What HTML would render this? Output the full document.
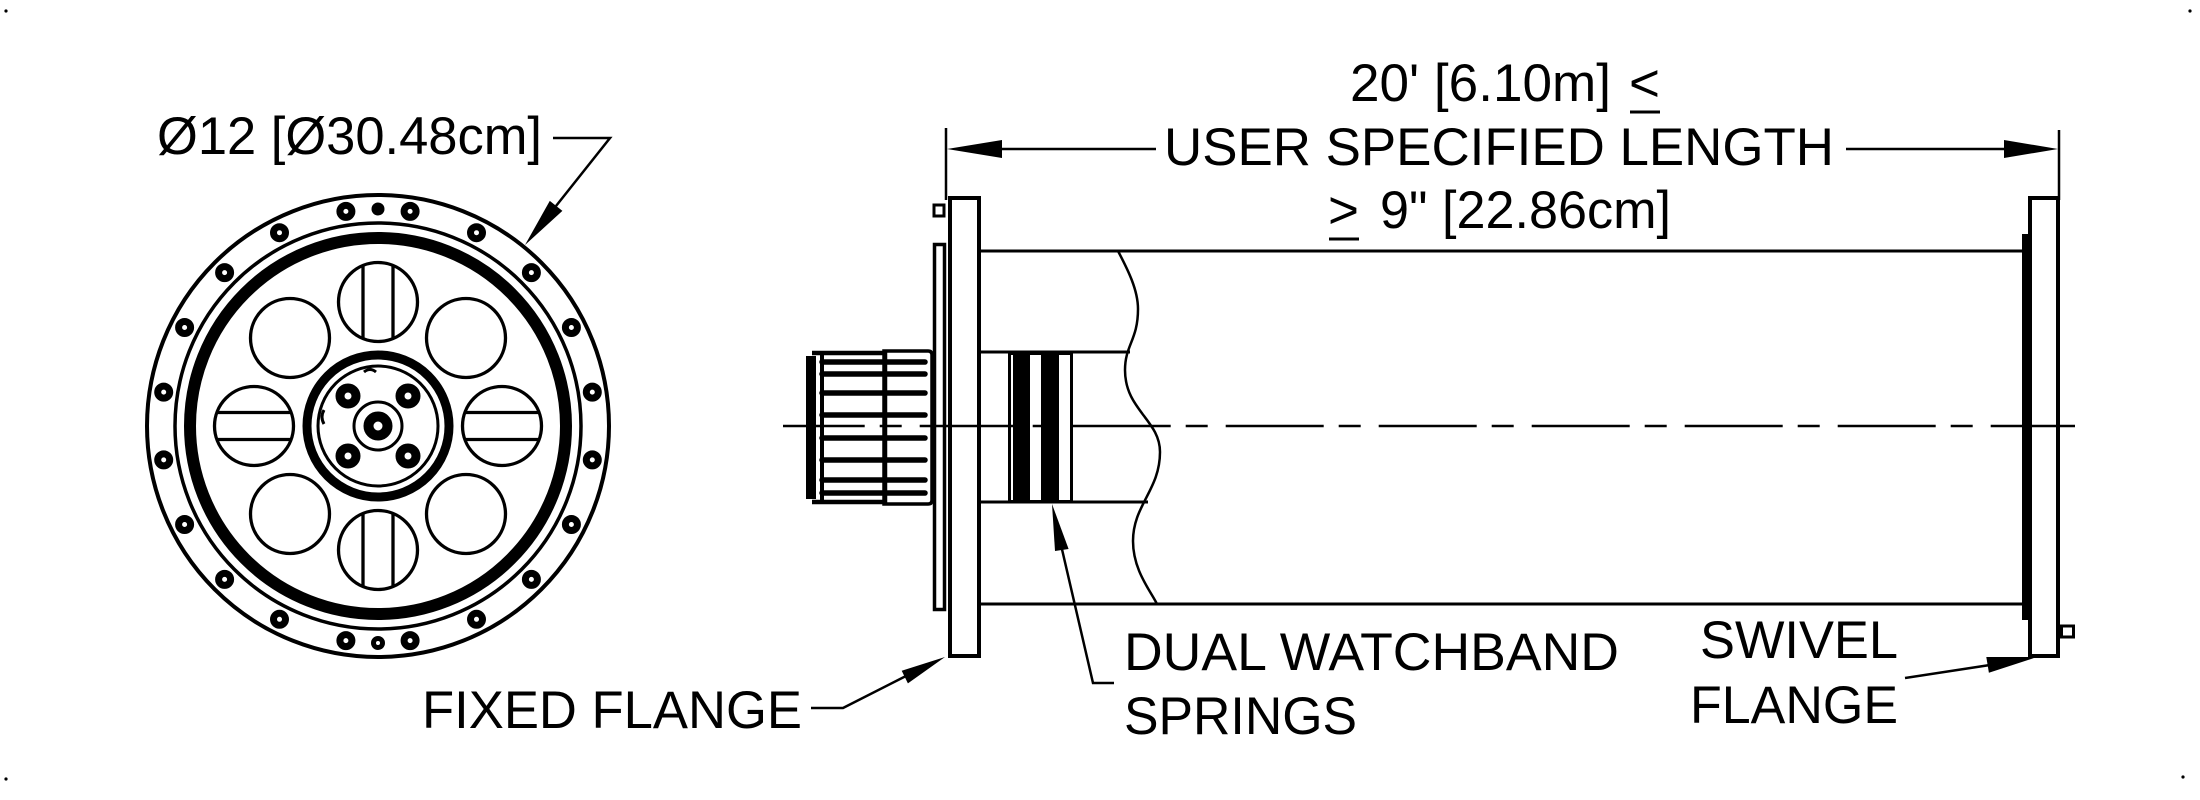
<!DOCTYPE html>
<html>
<head>
<meta charset="utf-8">
<style>
  html,body{margin:0;padding:0;background:#fff;}
  svg{display:block;}
  text{font-family:"Liberation Sans",Arial,sans-serif;font-size:53px;fill:#000;}
</style>
</head>
<body>
<svg width="2200" height="800" viewBox="0 0 2200 800" xmlns="http://www.w3.org/2000/svg">
  <rect width="2200" height="800" fill="#fff"/>

  <!-- corner dots -->
  <g fill="#000">
    <circle cx="6" cy="11" r="1.6"/>
    <circle cx="2190" cy="11" r="1.6"/>
    <circle cx="6" cy="779" r="1.6"/>
    <circle cx="2183" cy="777" r="1.6"/>
  </g>

  <!-- ============ FRONT (CIRCULAR) VIEW ============ -->
  <g fill="none" stroke="#000">
    <circle cx="378" cy="426" r="231" stroke-width="4"/>
    <circle cx="378" cy="426" r="203" stroke-width="3.5"/>
    <circle cx="378" cy="426" r="188" stroke-width="12"/>

    <!-- 8 cut-outs -->
    <g stroke-width="3.3">
      <circle cx="378" cy="302" r="39.5"/>
      <circle cx="378" cy="550" r="39.5"/>
      <circle cx="254" cy="426" r="39.5"/>
      <circle cx="502" cy="426" r="39.5"/>
      <circle cx="290" cy="338" r="39.5"/>
      <circle cx="466" cy="338" r="39.5"/>
      <circle cx="290" cy="514" r="39.5"/>
      <circle cx="466" cy="514" r="39.5"/>
      <!-- slots in top/bottom -->
      <line x1="363" y1="266" x2="363" y2="338"/>
      <line x1="393" y1="266" x2="393" y2="338"/>
      <line x1="363" y1="514" x2="363" y2="586"/>
      <line x1="393" y1="514" x2="393" y2="586"/>
      <!-- slots in left/right -->
      <line x1="217" y1="412.5" x2="291" y2="412.5"/>
      <line x1="217" y1="439.5" x2="291" y2="439.5"/>
      <line x1="465" y1="412.5" x2="539" y2="412.5"/>
      <line x1="465" y1="439.5" x2="539" y2="439.5"/>
    </g>

    <!-- hub -->
    <circle cx="378" cy="426" r="71" stroke-width="9"/>
    <circle cx="378" cy="426" r="60" stroke-width="3"/>
    <circle cx="378" cy="426" r="24" stroke-width="3"/>
    <circle cx="378" cy="426" r="9.5" stroke-width="10"/>
    <g stroke-width="9">
      <circle cx="348" cy="396" r="8"/>
      <circle cx="408" cy="396" r="8"/>
      <circle cx="348" cy="456" r="8"/>
      <circle cx="408" cy="456" r="8"/>
    </g>
    <path d="M364,372 q6,-5 12,0" stroke-width="3"/>
    <path d="M324,410 q-4,7 0,14" stroke-width="3"/>
  </g>

  <!-- bolt holes on flange ring -->
  <g fill="none" stroke="#000" stroke-width="7">
    <circle cx="345.9" cy="211.4" r="6"/>
    <circle cx="410.1" cy="211.4" r="6"/>
    <circle cx="279.5" cy="232.7" r="6"/>
    <circle cx="476.5" cy="232.7" r="6"/>
    <circle cx="224.6" cy="272.6" r="6"/>
    <circle cx="531.4" cy="272.6" r="6"/>
    <circle cx="184.6" cy="327.5" r="6"/>
    <circle cx="571.4" cy="327.5" r="6"/>
    <circle cx="163.7" cy="392.1" r="6"/>
    <circle cx="592.3" cy="392.1" r="6"/>
    <circle cx="163.7" cy="459.9" r="6"/>
    <circle cx="592.3" cy="459.9" r="6"/>
    <circle cx="184.6" cy="524.5" r="6"/>
    <circle cx="571.4" cy="524.5" r="6"/>
    <circle cx="224.6" cy="579.4" r="6"/>
    <circle cx="531.4" cy="579.4" r="6"/>
    <circle cx="279.5" cy="619.3" r="6"/>
    <circle cx="476.5" cy="619.3" r="6"/>
    <circle cx="345.9" cy="640.6" r="6"/>
    <circle cx="410.1" cy="640.6" r="6"/>
    <circle cx="378" cy="643" r="4.5" stroke-width="5"/>
  </g>
  <circle cx="378" cy="209" r="6.5" fill="#000"/>

  <!-- diameter label + leader -->
  <text x="157" y="154" textLength="385" lengthAdjust="spacingAndGlyphs">Ø12 [Ø30.48cm]</text>
  <polyline points="553,138 610,138 556,206" fill="none" stroke="#000" stroke-width="2.5"/>
  <polygon points="525,245 562.4,210.9 549.8,200.9" fill="#000"/>

  <!-- ============ SIDE VIEW ============ -->
  <!-- dimension -->
  <g stroke="#000" stroke-width="2.5" fill="none">
    <line x1="946" y1="128" x2="946" y2="200"/>
    <line x1="2059" y1="130" x2="2059" y2="200"/>
    <line x1="1000" y1="149" x2="1156" y2="149"/>
    <line x1="1846" y1="149" x2="2006" y2="149"/>
  </g>
  <polygon points="947,149 1002,140 1002,158" fill="#000"/>
  <polygon points="2058,149 2004,140 2004,158" fill="#000"/>

  <text x="1350" y="101" textLength="261" lengthAdjust="spacingAndGlyphs">20' [6.10m]</text>
  <text x="1629" y="101">&lt;</text>
  <line x1="1630" y1="112" x2="1660" y2="112" stroke="#000" stroke-width="3"/>
  <text x="1164" y="165" textLength="670" lengthAdjust="spacingAndGlyphs">USER SPECIFIED LENGTH</text>
  <text x="1328" y="228">&gt;</text>
  <line x1="1329" y1="239" x2="1359" y2="239" stroke="#000" stroke-width="3"/>
  <text x="1380" y="228" textLength="291" lengthAdjust="spacingAndGlyphs">9" [22.86cm]</text>

  <!-- tube -->
  <g stroke="#000" stroke-width="3" fill="none">
    <line x1="981" y1="251" x2="2024" y2="251"/>
    <line x1="981" y1="604" x2="2024" y2="604"/>
    <line x1="981" y1="352" x2="1130" y2="352"/>
    <line x1="981" y1="502" x2="1148" y2="502"/>
    <path d="M1118,251 C1128,270 1138,290 1138,309 C1138,340 1125,345 1125,370 C1125,410 1160,420 1160,452 C1160,490 1133,505 1133,541 C1133,570 1150,590 1157,604" stroke-width="2.5"/>
  </g>

  <!-- fixed flange -->
  <g stroke="#000" fill="#fff">
    <rect x="950" y="198" width="29" height="458" stroke-width="4"/>
    <rect x="934.5" y="244.5" width="10" height="365" stroke-width="3.5"/>
    <rect x="934" y="205" width="10" height="11" stroke-width="3"/>
  </g>

  <!-- connector (knurled) -->
  <g stroke="#000" fill="none">
    <rect x="806" y="356" width="10" height="143" fill="#000" stroke="none"/>
    <line x1="822" y1="354" x2="822" y2="501" stroke-width="4"/>
    <line x1="812" y1="353" x2="884" y2="353" stroke-width="4.5"/>
    <line x1="812" y1="502" x2="884" y2="502" stroke-width="4.5"/>
    <path d="M884,351 L928,351 Q932,351 932,355 L932,500 Q932,504 928,504 L884,504 Z" stroke-width="3.5"/>
    <line x1="885" y1="351" x2="885" y2="504" stroke-width="4.5"/>
    <g stroke-width="5.5" stroke-linecap="round">
      <line x1="822" y1="362" x2="925" y2="362"/>
      <line x1="822" y1="374" x2="925" y2="374"/>
      <line x1="822" y1="393" x2="925" y2="393"/>
      <line x1="822" y1="415" x2="925" y2="415"/>
      <line x1="822" y1="438" x2="925" y2="438"/>
      <line x1="822" y1="460" x2="925" y2="460"/>
      <line x1="822" y1="480" x2="925" y2="480"/>
      <line x1="822" y1="493" x2="925" y2="493"/>
    </g>
  </g>

  <!-- springs -->
  <rect x="1009.5" y="353.5" width="62" height="148" fill="#fff" stroke="#000" stroke-width="3"/>
  <rect x="1013" y="352" width="17" height="151" fill="#000"/>
  <rect x="1041" y="352" width="18" height="151" fill="#000"/>

  <!-- swivel flange -->
  <g stroke="#000" fill="#fff">
    <rect x="2030" y="198" width="28" height="458" stroke-width="4"/>
    <rect x="2061.5" y="626" width="12" height="11" stroke-width="3"/>
  </g>
  <rect x="2022" y="234" width="10" height="386" fill="#000"/>

  <!-- centre line -->
  <line x1="783" y1="426" x2="2075" y2="426" stroke="#000" stroke-width="2.5" stroke-dasharray="98 15 22 18" stroke-dashoffset="16.3"/>

  <!-- labels & leaders -->
  <text x="422" y="728" textLength="380" lengthAdjust="spacingAndGlyphs">FIXED FLANGE</text>
  <polyline points="811,708 843,708 906,676" fill="none" stroke="#000" stroke-width="2.5"/>
  <polygon points="945,657 907.9,683.4 901.7,670.8" fill="#000"/>

  <text x="1124" y="670" textLength="495" lengthAdjust="spacingAndGlyphs">DUAL WATCHBAND</text>
  <text x="1124" y="734" textLength="233" lengthAdjust="spacingAndGlyphs">SPRINGS</text>
  <polyline points="1114,683 1093,683 1061,545" fill="none" stroke="#000" stroke-width="2.5"/>
  <polygon points="1052,504 1068.6,549 1055,551" fill="#000"/>

  <text x="1700" y="658" textLength="198" lengthAdjust="spacingAndGlyphs">SWIVEL</text>
  <text x="1690" y="723" textLength="208" lengthAdjust="spacingAndGlyphs">FLANGE</text>
  <line x1="1905" y1="678" x2="1990" y2="665" stroke="#000" stroke-width="2.5"/>
  <polygon points="2037,657 1988.9,672.8 1986.3,657" fill="#000"/>
</svg>
</body>
</html>
